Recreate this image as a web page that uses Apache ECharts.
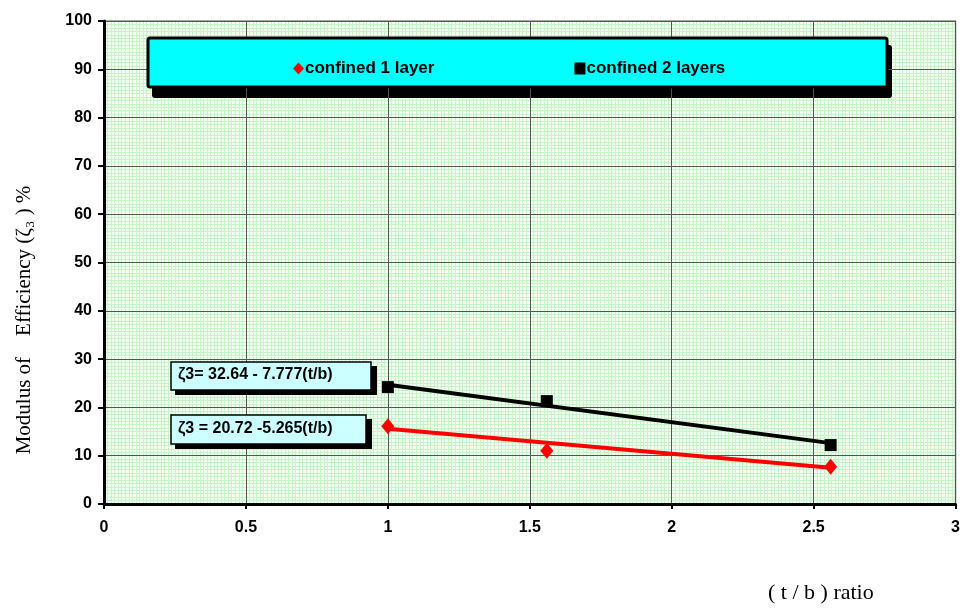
<!DOCTYPE html>
<html><head><meta charset="utf-8">
<script src="https://cdn.jsdelivr.net/npm/echarts@6/dist/echarts.min.js"></script>
<style>html,body{margin:0;padding:0;background:#fff}#c{width:963px;height:608px}</style>
</head><body><div id="c"></div>
<script>
const xTicks = [0, 0.5, 1, 1.5, 2, 2.5, 3];
const yTicks = [0, 10, 20, 30, 40, 50, 60, 70, 80, 90, 100];
const tb = [1, 1.56, 2.56];
const layer1 = [16.1, 11.0, 7.7];
const layer2 = [24.2, 21.3, 12.2];
const trendX = [1, 2.56];
const trend1 = [15.6, 7.5];
const trend2 = [24.7, 12.6];
const seriesNames = ['confined 1 layer', 'confined 2 layers'];
const eq1 = 'ζ3= 32.64 - 7.777(t/b)';
const eq2 = 'ζ3 = 20.72 -5.265(t/b)';

const chart = echarts.init(document.getElementById('c'));
const narrow = 'Liberation Sans Narrow, Arial Narrow, Arial';
const tickFont = {fontFamily: narrow, fontWeight: 'bold', fontSize: 16, color: '#000'};
const minorAxis = (min, max, interval, n) => ({
  type: 'value', min: min, max: max, interval: interval, z: 0,
  axisLine: {show: false}, axisTick: {show: false}, axisLabel: {show: false},
  splitLine: {show: false},
  minorTick: {show: false, splitNumber: n},
  minorSplitLine: {show: true, lineStyle: {color: '#c6f4c6', width: 1, type: 'solid'}}
});
chart.setOption({
  animation: false,
  grid: {left: 104, right: 5, top: 21, bottom: 104, show: true, backgroundColor: '#f4fff4', borderColor: '#888', borderWidth: 1.5},
  xAxis: [{
    type: 'value', min: 0, max: 3, interval: 0.5, z: 1,
    axisLine: {lineStyle: {color: '#000', width: 3}},
    axisTick: {show: true, length: 5, lineStyle: {color: '#000', width: 2}},
    axisLabel: Object.assign({margin: 16, formatter: v => String(v)}, tickFont),
    splitLine: {show: true, lineStyle: {color: '#555', width: 1, type: 'solid'}}
  }, minorAxis(0, 3, 0.5, 40)],
  yAxis: [{
    type: 'value', min: 0, max: 100, interval: 10, z: 1,
    axisLine: {lineStyle: {color: '#000', width: 3}},
    axisTick: {show: true, length: 6, lineStyle: {color: '#000', width: 2}},
    axisLabel: Object.assign({margin: 12}, tickFont),
    splitLine: {show: true, lineStyle: {color: '#555', width: 1, type: 'solid'}}
  }, minorAxis(0, 100, 10, 14)],
  legend: {
    data: seriesNames, left: 288, top: 55, itemGap: 140, itemWidth: 11, itemHeight: 12,
    textStyle: {fontFamily: narrow, fontWeight: 'bold', fontSize: 17, color: '#000', padding: [0,0,0,-4]}
  },
  graphic: [
    {type: 'rect', shape: {x: 152, y: 45, width: 740, height: 53, r: 3}, style: {fill: '#000'}, z: 1},
    {type: 'rect', shape: {x: 148, y: 38, width: 739, height: 49, r: 2}, style: {fill: '#00ffff', stroke: '#000', lineWidth: 3}, z: 2},
    {type: 'rect', shape: {x: 175, y: 366, width: 202, height: 29}, style: {fill: '#000'}, z: 3},
    {type: 'rect', shape: {x: 171, y: 362, width: 200, height: 28}, style: {fill: '#ccffff', stroke: '#000', lineWidth: 1.5}, z: 4},
    {type: 'text', left: 178, top: 367, style: {text: eq1, fontFamily: narrow, fontWeight: 'bold', fontSize: 16, fill: '#000'}, z: 5},
    {type: 'rect', shape: {x: 175, y: 419, width: 197, height: 30}, style: {fill: '#000'}, z: 3},
    {type: 'rect', shape: {x: 171, y: 415, width: 195, height: 29}, style: {fill: '#ccffff', stroke: '#000', lineWidth: 1.5}, z: 4},
    {type: 'text', left: 178, top: 421, style: {text: eq2, fontFamily: narrow, fontWeight: 'bold', fontSize: 16, fill: '#000'}, z: 5},
    {type: 'text', left: 768, top: 582, style: {text: '( t / b ) ratio', fontFamily: 'Liberation Serif, Times New Roman, serif', fontSize: 22, fill: '#000'}},
    {type: 'text', x: 24, y: 320, rotation: Math.PI / 2, style: {text: 'Modulus of    Efficiency (ζ₃ ) %', fontFamily: 'Liberation Serif, Times New Roman, serif', fontSize: 21, fill: '#000', align: 'center', verticalAlign: 'middle'}}
  ],
  series: [
    {name: 'trend1', type: 'line', data: trendX.map((x, i) => [x, trend1[i]]), showSymbol: false, lineStyle: {color: '#ff0000', width: 4}, z: 3},
    {name: 'trend2', type: 'line', data: trendX.map((x, i) => [x, trend2[i]]), showSymbol: false, lineStyle: {color: '#000', width: 4}, z: 3},
    {name: seriesNames[0], type: 'scatter', data: tb.map((x, i) => [x, layer1[i]]), symbol: 'diamond', symbolSize: [13, 16], itemStyle: {color: '#ff0000', opacity: 1}, z: 4},
    {name: seriesNames[1], type: 'scatter', data: tb.map((x, i) => [x, layer2[i]]), symbol: 'rect', symbolSize: 12, itemStyle: {color: '#000', opacity: 1}, z: 4}
  ]
});
</script></body></html>
